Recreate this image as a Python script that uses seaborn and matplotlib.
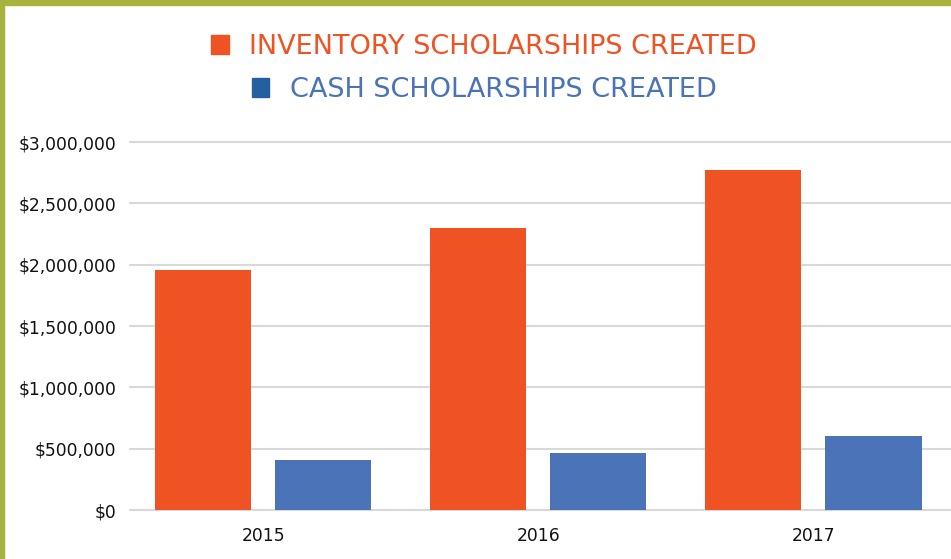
import numpy as np
import pandas as pd
import matplotlib
matplotlib.use('Agg')
import matplotlib.pyplot as plt
import seaborn as sns
from matplotlib.patches import Rectangle, Patch
from matplotlib.ticker import FuncFormatter

# data
years = ['2015', '2016', '2017']
inventory = [1960000, 2295000, 2770000]
cash = [410000, 468000, 607000]
series = ['INVENTORY SCHOLARSHIPS CREATED', 'CASH SCHOLARSHIPS CREATED']

df = pd.DataFrame({
    'year': years * 2,
    'amount': inventory + cash,
    'kind': [series[0]] * 3 + [series[1]] * 3,
})

orange = '#F05323'
blue = '#4A73B8'

sns.set_theme(style='white')
plt.rcParams['font.family'] = ['DejaVu Sans']

fig = plt.figure(figsize=(9.51, 5.59), dpi=100)
ax = fig.add_axes([130 / 951, 49 / 559, 821 / 951, 368 / 559])

sns.barplot(data=df, x='year', y='amount', hue='kind', palette=[orange, blue],
            width=0.873, gap=0.2, saturation=1, linewidth=0, ax=ax, legend=False)

ax.set_xlim(-0.484, 2.5)
ax.set_ylim(0, 3000000)
ax.set_yticks(np.arange(0, 3000001, 500000))
ax.yaxis.set_major_formatter(FuncFormatter(lambda v, p: '${:,.0f}'.format(v)))
ax.yaxis.grid(True, color='#D9D9D9', linewidth=1.5)
for gl in ax.get_ygridlines():
    gl.set_clip_on(False)
ax.set_axisbelow(True)
for s in ax.spines.values():
    s.set_visible(False)
ax.set_xlabel('')
ax.set_ylabel('')
ax.tick_params(axis='both', length=0, labelsize=12.3, colors='#111111')
ax.tick_params(axis='y', pad=10)
ax.tick_params(axis='x', pad=12)

# legend, two centred rows
leg1 = fig.legend(handles=[Patch(color=orange)], labels=[series[0]],
                  loc='center', bbox_to_anchor=(484 / 951, 1 - 47 / 559),
                  frameon=False, fontsize=19.5, handlelength=0.65, handleheight=0.65,
                  handletextpad=0.75, labelcolor=orange)
leg2 = fig.legend(handles=[Patch(color='#245FA0')], labels=[series[1]],
                  loc='center', bbox_to_anchor=(484 / 951, 1 - 90 / 559),
                  frameon=False, fontsize=19.5, handlelength=0.65, handleheight=0.65,
                  handletextpad=0.75, labelcolor=blue)

# olive frame on top and left
olive = '#A8B23E'
fig.patches.append(Rectangle((0, 1 - 5 / 559), 1, 5 / 559, transform=fig.transFigure,
                             color=olive, zorder=10))
fig.patches.append(Rectangle((0, 0), 4 / 951, 1, transform=fig.transFigure,
                             color=olive, zorder=10))

fig.savefig('out.png', dpi=100)
